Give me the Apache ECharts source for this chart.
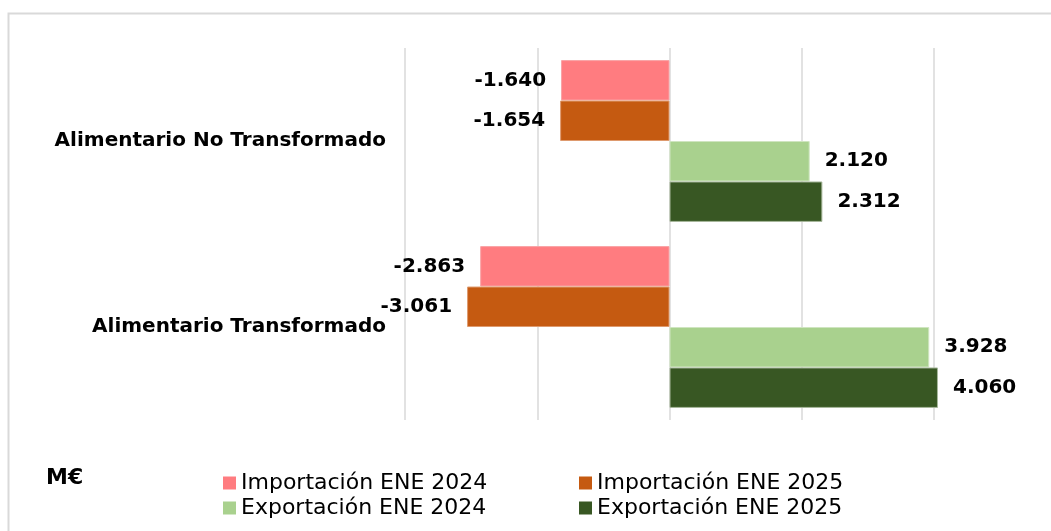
<!DOCTYPE html>
<html>
<head>
<meta charset="utf-8">
<script src="https://cdn.jsdelivr.net/npm/echarts@6/dist/echarts.min.js"></script>
<style>
  html, body { margin: 0; padding: 0; background: #fff; }
  #chart { width: 1051px; height: 531px; }
</style>
</head>
<body>
<div id="chart"></div>
<script>
// datos (M€)
var categorias = ['Alimentario No Transformado', 'Alimentario Transformado'];
var seriesNombres = ['Importación ENE 2024', 'Importación ENE 2025', 'Exportación ENE 2024', 'Exportación ENE 2025'];
var imp2024 = [-1640, -2863];
var imp2025 = [-1654, -3061];
var exp2024 = [2120, 3928];
var exp2025 = [2312, 4060];
var colores = ['#FF7C80', '#C55A11', '#A9D18E', '#385723'];
var bordes = ['#F9A3A5', '#DE9A6E', '#CFE5C0', '#A8B89C'];

var valores = [imp2024, imp2025, exp2024, exp2025];
var fuente = 'DejaVu Sans, Verdana, sans-serif';

function miles(v) {
    var s = String(Math.abs(v)).replace(/\B(?=(\d{3})+(?!\d))/g, '.');
    return (v < 0 ? '-' : '') + s;
}

var chart = echarts.init(document.getElementById('chart'));

var series = seriesNombres.map(function (nombre, i) {
    return {
        name: nombre,
        type: 'bar',
        barGap: 0,
        barCategoryGap: '13%',
        clip: false,
        itemStyle: { color: colores[i], borderColor: bordes[i], borderWidth: 1 },
        data: valores[i].map(function (v) {
            return {
                value: v,
                label: { position: v < 0 ? 'left' : 'right' }
            };
        }),
        label: {
            show: true,
            distance: 15,
            fontFamily: fuente,
            fontWeight: 'bold',
            fontSize: 20,
            color: '#000',
            formatter: function (p) { return miles(p.value); }
        }
    };
});

function leyenda(nombre, left, top) {
    return {
        data: [nombre],
        left: left,
        top: top,
        itemWidth: 13,
        itemHeight: 13,
        itemGap: 0,
        padding: 0,
        icon: 'rect',
        itemStyle: { borderWidth: 0 },
        textStyle: { fontFamily: fuente, fontSize: 22, color: '#000', lineHeight: 22 },
        selectedMode: false
    };
}

chart.setOption({
    animation: false,
    backgroundColor: '#fff',
    grid: {
        left: 405,
        right: 117,
        top: 48,
        bottom: 111
    },
    xAxis: {
        type: 'value',
        min: -4000,
        max: 4000,
        interval: 2000,
        axisLabel: { show: false },
        axisLine: { show: false },
        axisTick: { show: false },
        splitLine: { lineStyle: { color: '#D9D9D9', width: 1.5 } }
    },
    yAxis: {
        type: 'category',
        inverse: true,
        data: categorias,
        axisLine: { show: false },
        axisTick: { show: false },
        axisLabel: {
            margin: 19,
            fontFamily: fuente,
            fontWeight: 'bold',
            fontSize: 20,
            color: '#000'
        }
    },
    legend: [
        leyenda(seriesNombres[0], 223, 472),
        leyenda(seriesNombres[1], 579, 472),
        leyenda(seriesNombres[2], 223, 497),
        leyenda(seriesNombres[3], 579, 497)
    ],
    graphic: [
        {
            type: 'rect',
            shape: { x: 8.5, y: 13.5, width: 1200, height: 700 },
            style: { fill: 'none', stroke: '#D9D9D9', lineWidth: 2 },
            silent: true
        },
        {
            type: 'text',
            left: 46,
            top: 467,
            style: {
                text: 'M€',
                fontFamily: fuente,
                fontWeight: 'bold',
                fontSize: 22,
                fill: '#000'
            }
        }
    ],
    series: series
});
</script>
</body>
</html>
